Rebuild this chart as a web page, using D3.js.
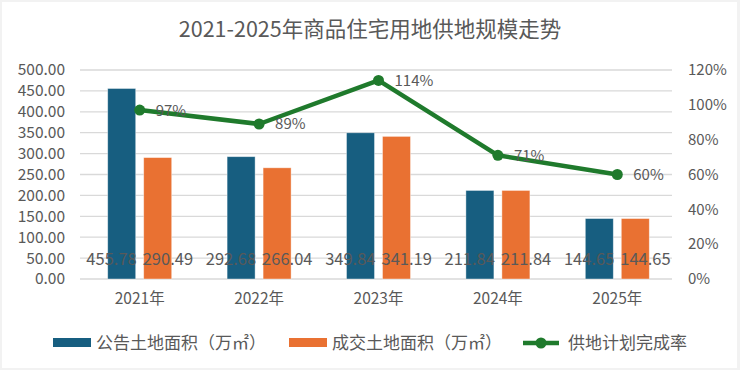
<!DOCTYPE html>
<html><head><meta charset="utf-8">
<script src="https://cdn.jsdelivr.net/npm/d3@7"></script>
<style>
html,body{margin:0;padding:0;background:#fff;}
svg{display:block;}
text{font-family:"Noto Sans CJK SC","Liberation Sans",sans-serif;}
</style></head>
<body>
<svg id="c" width="740" height="370"></svg>
<script>
const title = "2021-2025年商品住宅用地供地规模走势";
const categories = ["2021年","2022年","2023年","2024年","2025年"];
const announced = [455.78, 292.68, 349.84, 211.84, 144.65];
const traded = [290.49, 266.04, 341.19, 211.84, 144.65];
const completion = [97, 89, 114, 71, 60];
const leftTicks = [0,50,100,150,200,250,300,350,400,450,500];
const rightTicks = [0,20,40,60,80,100,120];
const seriesNames = ["公告土地面积（万㎡）","成交土地面积（万㎡）","供地计划完成率"];
const colors = {blue:"#175e80", orange:"#e97132", green:"#1f7a2c", text:"#595959", grid:"#d9d9d9"};
const numFont = "Liberation Sans, Arial, sans-serif";

const svg = d3.select("#c");
svg.append("rect").attr("x",0).attr("y",0).attr("width",740).attr("height",370).attr("fill","#f2f2f2");
svg.append("rect").attr("x",2).attr("y",2).attr("width",735).attr("height",366).attr("fill","#fff");

const x0 = 80, x1 = 677, yTop = 70, yBot = 279;
const x = d3.scaleBand().domain(categories).range([x0, x1]);
const yL = d3.scaleLinear().domain([0,500]).range([yBot, yTop]);
const yR = d3.scaleLinear().domain([0,120]).range([yBot, yTop]);
const sub = d3.scaleBand().domain(["a","b"]).range([-32, 32]).paddingInner(0.222);

// title
svg.append("text").attr("x",370).attr("y",37).attr("text-anchor","middle")
  .attr("font-size",21.5).attr("fill",colors.text).text(title);

// gridlines
svg.append("g").selectAll("line").data(leftTicks).join("line")
  .attr("x1",x0).attr("x2",672).attr("y1",d=>yL(d)).attr("y2",d=>yL(d))
  .attr("stroke",colors.grid).attr("stroke-width",1.3);

// left axis
const gl = svg.append("g").attr("transform",`translate(${x0-15},0)`)
  .call(d3.axisLeft(yL).tickValues(leftTicks).tickFormat(d=>d.toFixed(2)).tickSize(0).tickPadding(0));
gl.select(".domain").remove();
gl.selectAll("text").attr("font-size",15.5).attr("fill",colors.text).attr("font-family",numFont);

// right axis
const gr = svg.append("g").attr("transform",`translate(688,0)`)
  .call(d3.axisRight(yR).tickValues(rightTicks).tickFormat(d=>d+"%").tickSize(0).tickPadding(0));
gr.select(".domain").remove();
gr.selectAll("text").attr("font-size",15).attr("fill",colors.text).attr("font-family",numFont);

// bottom axis
const gb = svg.append("g").attr("transform",`translate(0,${yBot})`)
  .call(d3.axisBottom(x).tickSize(0).tickPadding(14));
gb.select(".domain").remove();
gb.selectAll("text").attr("font-size",15.5).attr("fill",colors.text);

// bars
const groups = svg.append("g").selectAll("g").data(categories).join("g")
  .attr("transform",d=>`translate(${x(d)+x.bandwidth()/2},0)`);
groups.append("rect").attr("x",sub("a")).attr("width",sub.bandwidth())
  .attr("y",(d,i)=>yL(announced[i])).attr("height",(d,i)=>yBot-yL(announced[i]))
  .attr("fill",colors.blue).attr("stroke","#fff").attr("stroke-opacity",0.5).attr("stroke-width",0.8);
groups.append("rect").attr("x",sub("b")).attr("width",sub.bandwidth())
  .attr("y",(d,i)=>yL(traded[i])).attr("height",(d,i)=>yBot-yL(traded[i]))
  .attr("fill",colors.orange).attr("stroke","#fff").attr("stroke-opacity",0.5).attr("stroke-width",0.8);

// bar labels (spread apart around the group centre, as in the reference)
groups.append("text").attr("x",-3).attr("y",265).attr("text-anchor","end")
  .attr("font-size",16.5).attr("fill",colors.text).attr("font-family",numFont)
  .text((d,i)=>announced[i].toFixed(2));
groups.append("text").attr("x",3).attr("y",265).attr("text-anchor","start")
  .attr("font-size",16.5).attr("fill",colors.text).attr("font-family",numFont)
  .text((d,i)=>traded[i].toFixed(2));

// line
const cx = d=>x(d)+x.bandwidth()/2;
const line = d3.line().x((d,i)=>cx(categories[i])).y(d=>yR(d));
svg.append("path").datum(completion).attr("d",line).attr("fill","none")
  .attr("stroke",colors.green).attr("stroke-width",4.5).attr("stroke-linejoin","round");
svg.append("g").selectAll("circle").data(completion).join("circle")
  .attr("cx",(d,i)=>cx(categories[i])).attr("cy",d=>yR(d)).attr("r",5.5).attr("fill",colors.green);
svg.append("g").selectAll("text").data(completion).join("text")
  .attr("x",(d,i)=>cx(categories[i])+16).attr("y",d=>yR(d)+5.5)
  .attr("font-size",15).attr("fill",colors.text).attr("font-family",numFont)
  .text(d=>d+"%");

// legend
const lg = svg.append("g");
lg.append("rect").attr("x",53).attr("y",338).attr("width",38).attr("height",9).attr("fill",colors.blue);
lg.append("text").attr("x",96).attr("y",349).attr("font-size",17).attr("fill",colors.text).text(seriesNames[0]);
lg.append("rect").attr("x",289).attr("y",338).attr("width",38).attr("height",9).attr("fill",colors.orange);
lg.append("text").attr("x",332).attr("y",349).attr("font-size",17).attr("fill",colors.text).text(seriesNames[1]);
lg.append("line").attr("x1",523).attr("x2",559).attr("y1",343).attr("y2",343).attr("stroke",colors.green).attr("stroke-width",4.5);
lg.append("circle").attr("cx",541).attr("cy",343).attr("r",5.5).attr("fill",colors.green);
lg.append("text").attr("x",568).attr("y",349).attr("font-size",17).attr("fill",colors.text).text(seriesNames[2]);
</script>
</body></html>
